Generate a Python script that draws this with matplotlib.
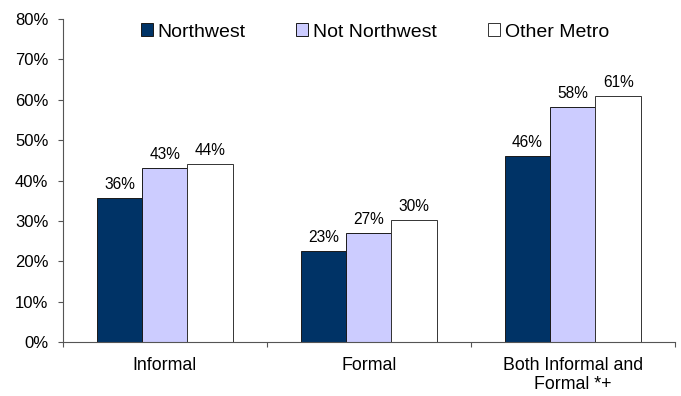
import matplotlib
matplotlib.use("Agg")
import matplotlib.pyplot as plt
import numpy as np

categories = ["Informal", "Formal", "Both Informal and\nFormal *+"]
series_names = ["Northwest", "Not Northwest", "Other Metro"]
northwest = [36, 23, 46]
not_northwest = [43, 27, 58]
other_metro = [44, 30, 61]
bar_values = [northwest, not_northwest, other_metro]

# unrounded heights behind the printed labels
bar_heights = [[35.8, 22.6, 46.2], [43.0, 26.9, 58.1], [44.1, 30.2, 61.0]]

colors = ["#003366", "#CCCCFF", "#FFFFFF"]
edges = ["#1a1a1a", "#1a1a1a", "#333333"]

plt.rcParams["font.family"] = ["Liberation Sans", "DejaVu Sans"]

fig = plt.figure(figsize=(6.81, 3.96), dpi=100)
ax = fig.add_axes([0.092, 0.136, 0.899, 0.816])

x = np.arange(len(categories))
w = 0.222
for i in range(3):
    pos = x + (i - 1) * w
    ax.bar(pos, bar_heights[i], width=w, color=colors[i], edgecolor=edges[i],
           linewidth=0.7, label=series_names[i], zorder=2)
    for px, h, v in zip(pos, bar_heights[i], bar_values[i]):
        ax.annotate("%d%%" % v, (px, h), xytext=(0, 6.5), textcoords="offset points",
                    ha="center", va="baseline", fontsize=11.2)

ax.set_xlim(-0.5, 2.5)
ax.set_ylim(0, 80)
ax.set_yticks(range(0, 81, 10))
ax.set_yticklabels(["%d%%" % t for t in range(0, 81, 10)], fontsize=12)
ax.set_xticks([-0.5, 0.5, 1.5, 2.5])
ax.set_xticklabels([])
ax.set_xticks(x, minor=True)
ax.set_xticklabels(categories, minor=True, fontsize=12.8, linespacing=1.15)
ax.tick_params(axis="x", which="minor", length=0, pad=10.5)
ax.tick_params(axis="x", which="major", length=3.5, width=0.8, direction="out", color="#555555")
ax.tick_params(axis="y", length=3.8, width=0.8, direction="out", color="#555555", pad=6.5)

for s in ["top", "right"]:
    ax.spines[s].set_visible(False)
for s in ["left", "bottom"]:
    ax.spines[s].set_color("#555555")
    ax.spines[s].set_linewidth(0.8)

ax.legend(loc="center", bbox_to_anchor=(0.51, 0.96), ncol=3, frameon=False,
          fontsize=14, handlelength=0.62, handleheight=0.62, handletextpad=0.25,
          columnspacing=2.6, borderaxespad=0)

fig.savefig("out.png", dpi=100)
